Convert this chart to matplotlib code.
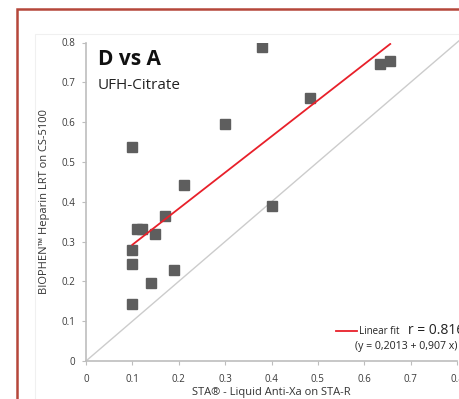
import numpy as np
import matplotlib.pyplot as plt
import matplotlib as mpl
from matplotlib.patches import Rectangle
from matplotlib.lines import Line2D

mpl.rcParams['font.family'] = ['Open Sans', 'DejaVu Sans']

# STA-R anti-Xa (x) vs BIOPHEN on CS-5100 (y)
sta = [0.38, 0.635, 0.656, 0.483, 0.30, 0.10, 0.211, 0.401, 0.171,
       0.111, 0.121, 0.149, 0.10, 0.10, 0.19, 0.141, 0.10]
biophen = [0.788, 0.745, 0.754, 0.66, 0.595, 0.537, 0.441, 0.39, 0.363,
           0.331, 0.331, 0.319, 0.279, 0.244, 0.229, 0.195, 0.143]

# linear fit as printed on chart
intercept = 0.2013
slope = 0.907
fit_x = [0.10, 0.656]
ticks = [0, 0.1, 0.2, 0.3, 0.4, 0.5, 0.6, 0.7, 0.8]
tick_labels = ['0', '0.1', '0.2', '0.3', '0.4', '0.5', '0.6', '0.7', '0.8']

fig = plt.figure(figsize=(4.6, 3.99), dpi=100)

# red frame (cropped on right / bottom)
fig.patches.append(Rectangle((17 / 460, -0.1), 1.2, 1.1 - 9 / 399,
                             transform=fig.transFigure, fill=False,
                             edgecolor='#b5473a', lw=1.8))
# faint inner panel
fig.patches.append(Rectangle((35 / 460, -0.1), 1.2, 1.1 - 34 / 399,
                             transform=fig.transFigure, fill=False,
                             edgecolor='#f0f0f0', lw=0.8))

ax = fig.add_axes([86 / 460, 38 / 399, 371 / 460, 318.5 / 399])
ax.set_xlim(0, 0.8)
ax.set_ylim(0, 0.8)

ax.plot([0, 0.85], [0, 0.85], color='#cccccc', lw=1.0, clip_on=False, zorder=1)
fx = np.array(fit_x)
ax.plot(fx, intercept + slope * fx, color='#e8202a', lw=1.3, zorder=3)
ax.plot(sta, biophen, 's', color='#5e5e5e', markersize=7.2, zorder=2)

for s in ['top', 'right']:
    ax.spines[s].set_visible(False)
for s in ['left', 'bottom']:
    ax.spines[s].set_color('#bdbdbd')
    ax.spines[s].set_linewidth(1.2)

ax.set_xticks(ticks)
ax.set_xticklabels(tick_labels)
ax.set_yticks(ticks)
ax.set_yticklabels(tick_labels)
ax.tick_params(colors='#bdbdbd', labelcolor='#3a3a3a', labelsize=7,
               length=3, width=0.8)
ax.tick_params(axis='x', pad=6)
ax.tick_params(axis='y', pad=5)

ax.set_xlabel('STA\u00ae - Liquid Anti-Xa on STA-R', fontsize=8, color='#333333', labelpad=2)
ax.set_ylabel('BIOPHEN\u2122 Heparin LRT on CS-5100', fontsize=8, color='#333333', labelpad=8)

fig.text(98 / 460, 1 - 65 / 399, 'D vs A', fontsize=15, fontweight='bold',
         color='#111111', va='baseline')
fig.text(98 / 460, 1 - 89 / 399, 'UFH-Citrate', fontsize=11,
         color='#222222', va='baseline')

# legend-like annotation (cut by right edge)
fig.lines.append(Line2D([336 / 460, 357 / 460], [1 - 331 / 399, 1 - 331 / 399],
                        transform=fig.transFigure, color='#e8202a', lw=1.3))
fig.text(359 / 460, 1 - 331 / 399, 'Linear fit', fontsize=7, color='#222222', va='center')
fig.text(408 / 460, 1 - 331 / 399, 'r = 0.816', fontsize=10, color='#222222', va='center')
fig.text(355 / 460, 1 - 346 / 399, '(y = 0,2013 + 0,907 x)', fontsize=7.6,
         color='#222222', va='center')

fig.savefig('out.png', dpi=100)
